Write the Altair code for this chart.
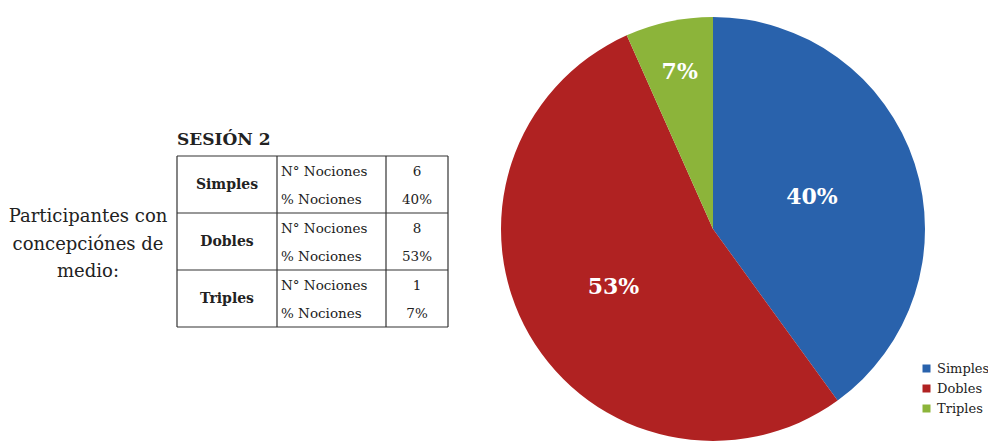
import altair as alt
import pandas as pd
import math

# ---------------- data ----------------
categories = ["Simples", "Dobles", "Triples"]
counts = [6, 8, 1]
colors = ["#2962AC", "#B02222", "#8CB43A"]
row_labels = ["N° Nociones", "% Nociones"]
session_title = "SESIÓN 2"
side_text = ["Participantes con", "concepciónes de", "medio:"]

total = sum(counts)
percents = [round(100 * c / total) for c in counts]
pct_labels = [f"{p}%" for p in percents]

# ---------------- layout ----------------
W, H = 988, 441
CX, CY, R = 713, 229, 212
SERIF = "DejaVu Serif"
TEXT = "#222222"
label_r = {"Simples": 104, "Dobles": 115, "Triples": 160}
col_x = [177, 277, 386, 448]
row_y = [156, 213, 270, 327]

pie_df = pd.DataFrame({
    "cat": categories,
    "count": counts,
    "order": list(range(len(categories))),
    "label": pct_labels,
    "lr": [label_r[c] for c in categories],
})

color_scale = alt.Scale(domain=categories, range=colors)
theta_scale = alt.Scale(domain=[0, total], range=[0, 2 * math.pi])

base = alt.Chart(pie_df).transform_window(
    cum="sum(count)", sort=[alt.SortField("order")]
).transform_calculate(
    start="datum.cum - datum.count", mid="datum.cum - datum.count / 2"
)

arc = base.mark_arc(radius=R).encode(
    theta=alt.Theta("start:Q", scale=theta_scale, stack=False),
    theta2="cum:Q",
    color=alt.Color(
        "cat:N", scale=color_scale, sort=categories, title=None,
        legend=alt.Legend(
            orient="none", legendX=920, legendY=362, symbolType="square",
            symbolSize=64, symbolStrokeWidth=0, labelFont=SERIF, labelFontSize=13,
            labelColor=TEXT, rowPadding=6, labelOffset=4, padding=0,
        ),
    ),
    x=alt.value(CX),
    y=alt.value(CY),
)

pie_labels = base.mark_text(
    font=SERIF, fontSize=22, fontWeight="bold", color="white", baseline="middle"
).encode(
    theta=alt.Theta("mid:Q", scale=theta_scale, stack=False),
    radius=alt.Radius("lr:Q", scale=None),
    text="label:N",
    x=alt.value(CX),
    y=alt.value(CY),
)

# ---------------- table ----------------
lines = []
for yy in row_y:
    lines.append({"x": col_x[0], "x2": col_x[-1], "y": yy, "y2": yy})
for xx in col_x:
    lines.append({"x": xx, "x2": xx, "y": row_y[0], "y2": row_y[-1]})
lines_df = pd.DataFrame(lines)

rules = alt.Chart(lines_df).mark_rule(color="#333333", strokeWidth=1.2).encode(
    x=alt.X("x:Q", scale=None), x2="x2:Q",
    y=alt.Y("y:Q", scale=None), y2="y2:Q",
)

cat_cells, row_cells, val_cells = [], [], []
for i, cat in enumerate(categories):
    top, bot = row_y[i], row_y[i + 1]
    cat_cells.append({"x": (col_x[0] + col_x[1]) / 2, "y": (top + bot) / 2, "t": cat})
    row_cells.append({"x": col_x[1] + 4, "y": top + 16, "t": row_labels[0]})
    row_cells.append({"x": col_x[1] + 4, "y": top + 44, "t": row_labels[1]})
    val_cells.append({"x": (col_x[2] + col_x[3]) / 2, "y": top + 16, "t": str(counts[i])})
    val_cells.append({"x": (col_x[2] + col_x[3]) / 2, "y": top + 44, "t": pct_labels[i]})


def text_layer(rows, **kw):
    return alt.Chart(pd.DataFrame(rows)).mark_text(
        font=SERIF, color=TEXT, baseline="middle", **kw
    ).encode(x=alt.X("x:Q", scale=None), y=alt.Y("y:Q", scale=None), text="t:N")


cat_text = text_layer(cat_cells, fontSize=14, fontWeight="bold", align="center")
row_text = text_layer(row_cells, fontSize=13.5, align="left")
val_text = text_layer(val_cells, fontSize=13.5, align="center")
title_text = text_layer([{"x": col_x[0], "y": 140, "t": session_title}],
                        fontSize=17, fontWeight="bold", align="left")
side = text_layer([{"x": 88, "y": 217 + 27.5 * k, "t": s} for k, s in enumerate(side_text)],
                  fontSize=18, align="center")

chart = alt.layer(
    arc, pie_labels, rules, cat_text, row_text, val_text, title_text, side
).properties(
    width=W, height=H, padding=0, autosize=alt.AutoSizeParams(type="none"),
    background="white",
).configure_view(stroke=None)

chart.save("out.html", embed_options={"renderer": "svg", "actions": False})
